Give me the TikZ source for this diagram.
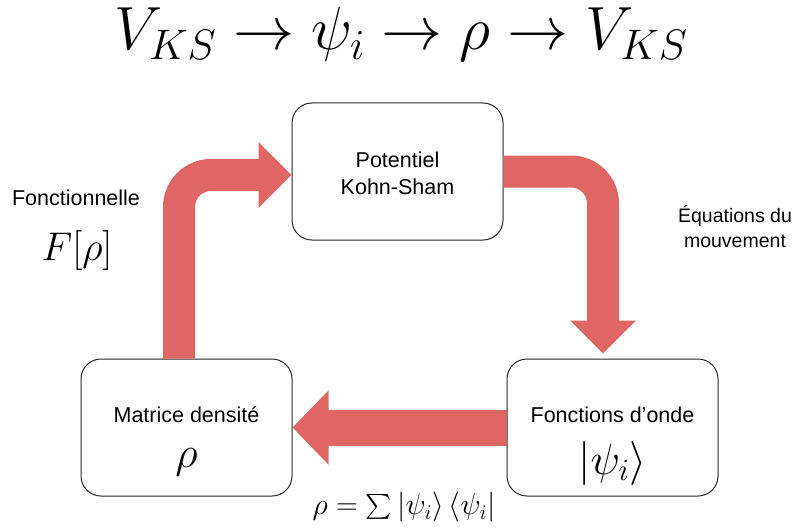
\RequirePackage{fix-cm}
\documentclass[tikz,border=0pt]{standalone}
\usepackage{amsmath}
\usepackage{fontspec}
\setmainfont{Liberation Sans}
\usetikzlibrary{arrows.meta}

\definecolor{flowred}{RGB}{224,102,102}

\begin{document}
\begin{tikzpicture}[
    x=1pt, y=-1pt,
    every node/.style={font=\fontsize{21.5}{26}\selectfont},
    box/.style={draw=black!85, line width=1pt, rounded corners=20pt,
        minimum width=211pt, minimum height=137pt},
    flow/.style={draw=flowred, line width=32pt, rounded corners=32pt,
        -{Triangle[length=33pt, width=64pt]}},
    bigmath/.style={font=\fontsize{44}{48}\selectfont}
]
\useasboundingbox (0,0) rectangle (805,532);

% Title
\node[anchor=base, inner sep=0pt] (title) at (401,50) {\fontsize{61}{68}\selectfont $V_{KS} \rightarrow \psi_i \rightarrow \rho \rightarrow V_{KS}$};

% Boxes
\node[box] (pot) at (397.5,171.5) {};
\node[box] (mat) at (186.5,427.5) {};
\node[box] (fon) at (612.5,427.5) {};

% Box texts
\node (potA) at (397.5,160) {Potentiel};
\node (potB) at (397.5,187) {Kohn-Sham};
\node (matA) at (186.5,415) {Matrice densité};
\node[bigmath] (matB) at (186.5,462) {$\rho$};
\node (fonA) at (612.5,415) {Fonctions d’onde};
\node[bigmath] (fonB) at (612.5,463) {$|\psi_i\rangle$};

% Arrows
\draw[flow] ([xshift=-7.5pt]mat.north) |- ([yshift=-3.5pt]pot.west);
\draw[flow] (pot.east) -| ([xshift=-9.5pt, yshift=5pt]fon.north);
\draw[flow, line width=36pt, -{Triangle[length=36pt, width=72pt]}] (fon.west) -- (mat.east);

% Side labels
\node (fctA) at (76,198) {Fonctionnelle};
\node[font=\fontsize{40}{44}\selectfont] (fctB) at (77,250) {$F[\rho]$};
\node[align=center, font=\fontsize{19.5}{25}\selectfont] (eqm) at (735,227) {Équations du\\mouvement};
\node[font=\fontsize{30}{34}\selectfont] (dens) at (404,507) {$\rho = \sum |\psi_i\rangle \, \langle\psi_i|$};

\end{tikzpicture}
\end{document}
